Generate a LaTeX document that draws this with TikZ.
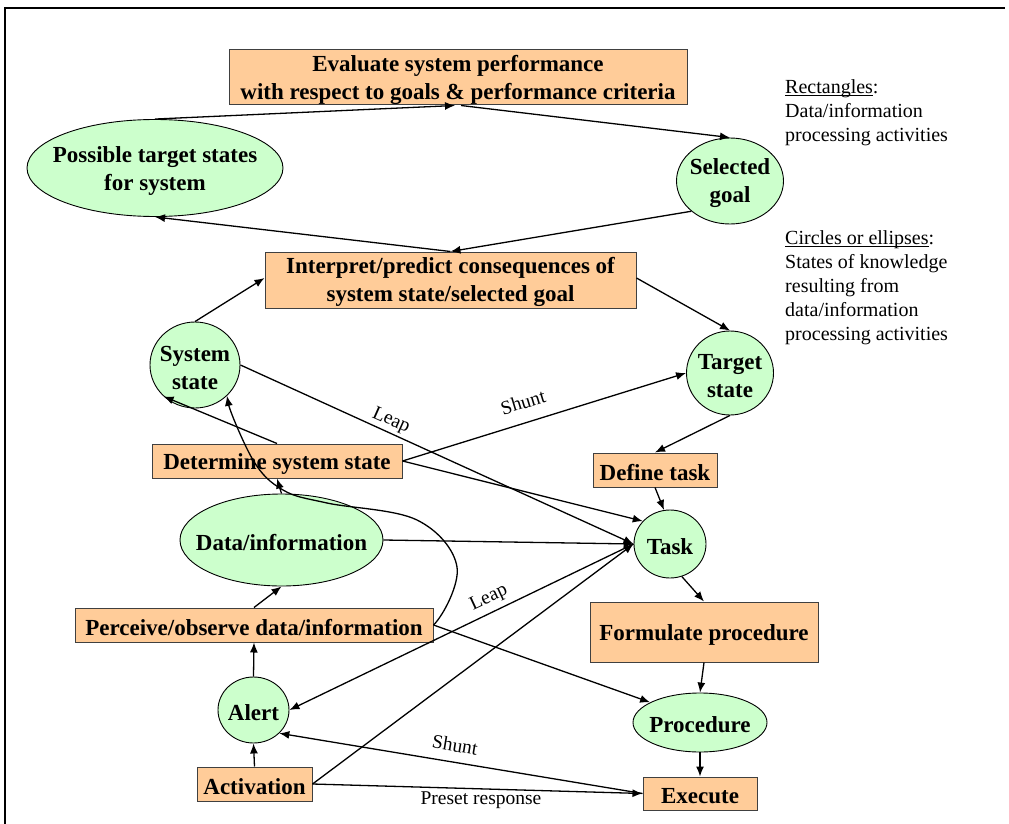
\documentclass[tikz,border=0pt]{standalone}
\usepackage{fontspec}
\setmainfont{Liberation Serif}
\usetikzlibrary{shapes.geometric,arrows.meta}
\definecolor{boxfill}{HTML}{FFCC99}
\definecolor{ellfill}{HTML}{CCFFCC}
\newcommand{\dn}{\rule{0pt}{21pt}}
\newcommand{\myul}[1]{\setbox0\hbox{#1}\rlap{\rule[-2.5pt]{\wd0}{1pt}}\box0}
\begin{document}
\begin{tikzpicture}[x=1pt,y=-1pt,
  lbl/.style={font=\fontsize{23}{28}\selectfont\bfseries, align=center, inner sep=0pt},
  box/.style={lbl, rectangle, draw=black!75, line width=1pt, fill=boxfill},
  ell/.style={lbl, ellipse, draw=black, line width=0.9pt, fill=ellfill, inner xsep=-25pt, inner ysep=-3pt},
  arr/.style={line width=1.3pt, -{Latex[length=10pt,width=8pt]}},
  elab/.style={font=\fontsize{19.5}{22}\selectfont, inner sep=0pt},
  legend/.style={font=\fontsize{20}{24}\selectfont, inner sep=0pt, anchor=base west}]
\useasboundingbox (0,0) rectangle (1009,824);
\draw[line width=2.6pt] (5,824) -- (5,8) -- (1005,8);

% boxes
\node[box, minimum width=458pt, minimum height=55pt] (eval) at (458,77.5) {\dn Evaluate system performance\\with respect to goals \& performance criteria};
\node[box, minimum width=371pt, minimum height=56pt] (interp) at (450.5,280) {\dn Interpret/predict consequences of\\system state/selected goal};
\node[box, minimum width=250pt, minimum height=34pt] (det) at (277,461) {\dn Determine system state};
\node[box, minimum width=124pt, minimum height=34pt] (define) at (655,470) {\dn Define task};
\node[box, minimum width=358pt, minimum height=34pt] (perc) at (254,625) {\dn Perceive/observe data/information};
\node[box, minimum width=228pt, minimum height=60pt] (form) at (704,632) {\dn Formulate procedure};
\node[box, minimum width=115pt, minimum height=34pt] (act) at (254.5,784) {\dn Activation};
\node[box, minimum width=114pt, minimum height=33pt] (exec) at (700,793.5) {\dn Execute};

% ellipses
\node[ell, minimum width=256pt, minimum height=97pt] (pts) at (155,168) {\dn Possible target states\\for system};
\node[ell, minimum width=107pt, minimum height=86pt] (sel) at (730,181) {\dn Selected\\goal};
\node[ell, minimum width=90pt, minimum height=86pt] (sys) at (195,365) {\dn System\\state};
\node[ell, minimum width=87pt, minimum height=84pt] (tgt) at (730,373) {\dn Target\\state};
\node[ell, minimum width=72pt, minimum height=68pt] (task) at (670,544) {\dn Task};
\node[ell, minimum width=203pt, minimum height=92pt] (data) at (281.5,540) {\dn Data/information};
\node[ell, minimum width=71pt, minimum height=66pt] (alert) at (253.5,710) {\dn Alert};
\node[ell, minimum width=134pt, minimum height=59pt] (proc) at (700,722.5) {\dn Procedure};

% legend
\node[legend] (leg1) at (785,94) {\begin{tabular}[t]{@{}l@{}}\myul{Rectangles}:\\Data/information\\processing activities\end{tabular}};
\node[legend] (leg2) at (785,244) {\begin{tabular}[t]{@{}l@{}}\myul{Circles or ellipses}:\\States of knowledge\\resulting from\\data/information\\processing activities\end{tabular}};

% upper cycle
\draw[arr] (pts.north) -- ([xshift=-3pt]eval.south);
\draw[arr] ([xshift=3pt]eval.south) -- (sel.north);
\draw[arr] (sel.218) -- (interp.north);
\draw[arr] (interp.north) -- (pts.south);
\draw[arr] (sys.north) -- ([yshift=2pt]interp.west);
\draw[arr] ([yshift=2pt]interp.east) -- (tgt.north);
\draw[arr] (tgt.south) -- (define.north);
\draw[arr] (define.south) -- (task.100);
\draw[arr] (task.290) -- (form.north);
\draw[arr] (form.south) -- (proc.north);
\draw[arr] (proc.south) -- (exec.north);

% left column
\draw[arr] (det.north) -- (sys.225);
\draw[arr] (data.north) -- (det.south);
\draw[arr] (perc.north) -- (data.south);
\draw[arr] (alert.north) -- (perc.south);
\draw[arr] (act.north) -- (alert.south);

% loop from perceive back to system state
\draw[arr] (perc.east) .. controls (443,616) and (459.7,584.2) .. (457,567)
  .. controls (454.3,549.8) and (438.7,530.7) .. (417,520)
  .. controls (395.3,509.3) and (349.3,508) .. (327,503)
  .. controls (304.7,498) and (295.3,497.2) .. (283,490)
  .. controls (270.7,482.8) and (262.2,475.5) .. (253,460)
  .. controls (243.8,444.5) and (229.7,410.3) .. (sys.-44);

% cross connections
\draw[arr] (sys.east) -- (task.west);
\draw[arr] (det.east) -- (tgt.west);
\draw[arr] (det.east) -- (task.140);
\draw[arr] (data.east) -- (task.west);
\draw[arr] (perc.east) -- (proc.158);
\draw[arr] (task.west) -- (alert.east);
\draw[arr] (act.east) -- (task.west);
\draw[arr] (exec.west) -- (alert.-42);
\draw[arr] (act.east) -- (exec.west);

% edge labels
\node[elab, rotate=-24] (lleap1) at (391,421) {Leap};
\node[elab, rotate=17] (lshunt1) at (523,402) {Shunt};
\node[elab, rotate=25] (lleap2) at (489,598) {Leap};
\node[elab, rotate=-9.5] (lshunt2) at (455,745) {Shunt};
\node[elab] (lpreset) at (481,800) {Preset response};
\end{tikzpicture}
\end{document}
